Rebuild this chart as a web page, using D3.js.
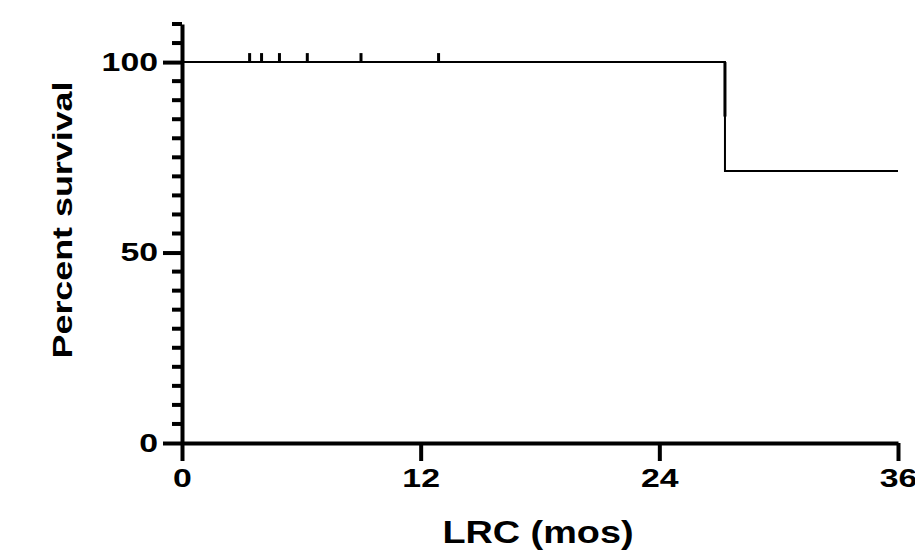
<!DOCTYPE html>
<html>
<head>
<meta charset="utf-8">
<script src="https://cdn.jsdelivr.net/npm/d3@7"></script>
<style>
  body { margin: 0; background: #fff; }
  svg text { font-family: "Liberation Sans", Arial, sans-serif; font-weight: bold; fill: #000; }
</style>
</head>
<body>
<div id="chart"></div>
<script>
// survival curve (step points), months vs percent
const stepTimes = [0, 27.3, 27.3, 36]
const stepSurvival = [100, 85.7, 71.4, 71.4]
// censored observations on the 100% line
const censorTimes = [3.4, 4.0, 4.9, 6.3, 9.0, 12.9]
const censorSurvival = [100, 100, 100, 100, 100, 100]
const xTicks = [0, 12, 24, 36]
const yMajorTicks = [0, 50, 100]
const yMinorTicks = [5, 10, 15, 20, 25, 30, 35, 40, 45, 55, 60, 65, 70, 75, 80, 85, 90, 95, 105, 110]

const width = 915
const height = 559
const stretch = 1.3

let svg = d3.select('#chart').append('svg')
  .attr('width', width)
  .attr('height', height)

let xScale = d3.scaleLinear().domain([0, 36]).range([182, 898])
let yScale = d3.scaleLinear().domain([0, 110]).range([443, 24])

// widen glyphs like the original
let widen = function (sel, factor) {
  sel.each(function () {
    let w = this.getComputedTextLength()
    d3.select(this).attr('textLength', w * factor).attr('lengthAdjust', 'spacingAndGlyphs')
  })
}

// y axis with major ticks
let yAxis = svg.append('g')
  .attr('transform', `translate(${xScale(0)},0)`)
  .call(d3.axisLeft(yScale).tickValues(yMajorTicks).tickSize(19).tickPadding(5).tickSizeOuter(0))
yAxis.select('.domain').attr('stroke-width', 4)
yAxis.selectAll('.tick line').attr('stroke-width', 4)
yAxis.selectAll('.tick text').style('font-size', '26px')
widen(yAxis.selectAll('.tick text'), stretch)

// minor ticks
yAxis.selectAll('.minor')
  .data(yMinorTicks)
  .enter()
  .append('line')
  .attr('class', 'minor')
  .attr('x1', -10)
  .attr('x2', 0)
  .attr('y1', d => yScale(d))
  .attr('y2', d => yScale(d))
  .attr('stroke', '#000')
  .attr('stroke-width', 4)

// x axis
let xAxis = svg.append('g')
  .attr('transform', `translate(0,${yScale(0)})`)
  .call(d3.axisBottom(xScale).tickValues(xTicks).tickSize(18).tickPadding(8).tickSizeOuter(0))
xAxis.select('.domain').attr('stroke-width', 4)
xAxis.selectAll('.tick line').attr('stroke-width', 4)
xAxis.selectAll('.tick text').style('font-size', '26px')
widen(xAxis.selectAll('.tick text'), stretch)

// survival line
let pts = [100].concat(stepSurvival)
let lineTimes = [0].concat(stepTimes)
svg.append('path')
  .datum(pts)
  .attr('d', d3.line()
    .x((d, i) => xScale(lineTimes[i]))
    .y(d => yScale(d))
    .curve(d3.curveStepAfter))
  .attr('fill', 'none')
  .attr('stroke', '#000')
  .attr('stroke-width', 2)

// thicker first drop
svg.append('line')
  .attr('x1', xScale(27.3)).attr('x2', xScale(27.3))
  .attr('y1', yScale(100)).attr('y2', yScale(85.7))
  .attr('stroke', '#000')
  .attr('stroke-width', 3)

// censor marks
svg.selectAll('.censor')
  .data(censorTimes)
  .enter()
  .append('line')
  .attr('class', 'censor')
  .attr('x1', d => xScale(d))
  .attr('x2', d => xScale(d))
  .attr('y1', (d, i) => yScale(censorSurvival[i]))
  .attr('y2', (d, i) => yScale(censorSurvival[i]) - 9)
  .attr('stroke', '#000')
  .attr('stroke-width', 3)

// axis titles
let xTitle = svg.append('text')
  .attr('x', 538)
  .attr('y', 543)
  .attr('text-anchor', 'middle')
  .style('font-size', '31px')
  .text('LRC (mos)')
widen(xTitle, 1.22)

let yTitle = svg.append('text')
  .attr('transform', `translate(72,220) rotate(-90)`)
  .attr('text-anchor', 'middle')
  .style('font-size', '28px')
  .text('Percent survival')
widen(yTitle, 1.28)
</script>
</body>
</html>
